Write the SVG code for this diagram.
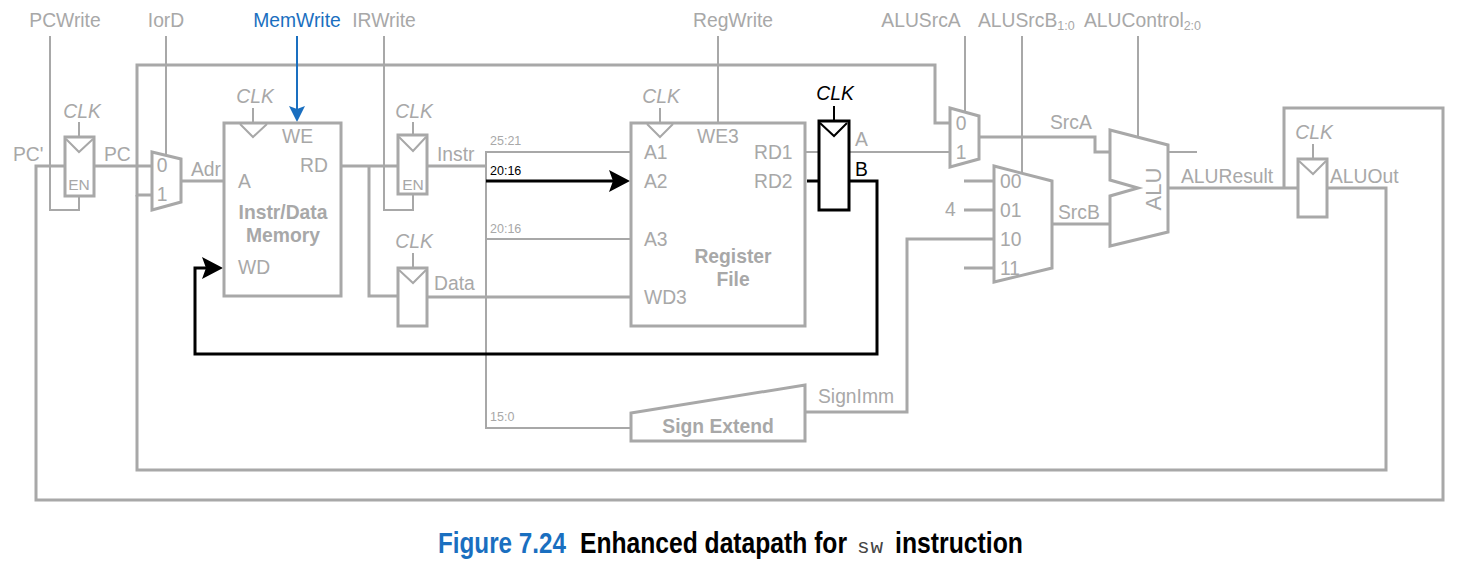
<svg xmlns="http://www.w3.org/2000/svg" width="1460" height="565" viewBox="0 0 1460 565">
<style>
text{font-family:"Liberation Sans",Arial,sans-serif;font-size:19.3px;fill:#a8a8a8}
.m{text-anchor:middle}
.i{font-style:italic}
.b{font-weight:bold}
.s{font-size:12.5px}
.en{font-size:15.5px}
.k{fill:#000}
.w,.n,.t,.bw,.bn,.bt{fill:none;stroke-linejoin:miter}
.w{stroke:#a8a8a8;stroke-width:3}
.n{stroke:#a8a8a8;stroke-width:3;fill:#fff}
.t{stroke:#a8a8a8;stroke-width:2}
.bw{stroke:#000;stroke-width:3}
.bn{stroke:#000;stroke-width:3;fill:#fff}
.bt{stroke:#000;stroke-width:2}
.cap{font-weight:bold;font-size:29px}
</style>
<defs>
<marker id="ab" markerUnits="userSpaceOnUse" markerWidth="22" markerHeight="22" refX="11" refY="11" orient="auto"><path d="M0 0L21 11L0 22L4 11Z" fill="#000"/></marker>
<marker id="au" markerUnits="userSpaceOnUse" markerWidth="18" markerHeight="18" refX="6" refY="8" orient="auto"><path d="M0 0L16 8L0 16L3 8Z" fill="#1a6fc0"/></marker>
</defs>
<rect width="1460" height="565" fill="#fff"/>

<g id="connectors">
<path class="w" d="M1284 188V108H1443V500H36V166H65"/>
<path class="w" d="M94 166H152"/>
<path class="w" d="M152 195H137V65H935V123H950"/>
<path class="w" d="M1327 188H1386V470H137V195"/>
<path class="w" d="M181 181H224"/>
<path class="w" d="M341 166H398"/>
<path class="w" d="M369 166V296H398"/>
<path class="w" d="M427 166H486"/>
<path class="w" d="M427 297H631"/>
<path class="t" d="M631 152H486V428H631"/>
<path class="t" d="M486 239H631"/>
<path class="w" d="M805 412H907V239H994"/>
<path class="t" d="M805 152H819"/>
<path class="t" d="M849 152H950"/>
<path class="w" d="M979 137H1095V152H1110"/>
<path class="w" d="M1052 224H1110"/>
<path class="w" d="M964 181H994M964 210H994M964 268H994"/>
<path class="t" d="M1168 152H1197"/>
<path class="w" d="M1168 188H1298"/>
<path class="t" d="M50 36V210H79V196"/>
<path class="t" d="M166 36V156"/>
<path class="t" d="M384 36V210H413V194"/>
<path class="t" d="M718 36V123"/>
<path class="t" d="M965 36V112"/>
<path class="t" d="M1022 36V173"/>
<path class="t" d="M1138 36V137"/>
<path class="bw" d="M486 181H620" marker-end="url(#ab)"/>
<path class="bw" d="M807 181H819"/>
<path class="bw" d="M849 181H877V354H195V268H213" marker-end="url(#ab)"/>
<path d="M297 36V112" fill="none" stroke="#1a6fc0" stroke-width="2" marker-end="url(#au)"/>
</g>

<g id="control-labels">
<text class="m" x="65" y="27">PCWrite</text>
<text class="m" x="166" y="27">IorD</text>
<text class="m" x="297" y="27" style="fill:#1a6fc0">MemWrite</text>
<text class="m" x="384" y="27">IRWrite</text>
<text class="m" x="733" y="27">RegWrite</text>
<text class="m" x="921" y="27">ALUSrcA</text>
<text x="978" y="27">ALUSrcB<tspan font-size="12.5" dy="3">1:0</tspan></text>
<text x="1084" y="27">ALUControl<tspan font-size="12.5" dy="3">2:0</tspan></text>
</g>

<g id="pc-register">
<rect class="n" x="65" y="137" width="29" height="59"/>
<path class="t" d="M66 139L79 152L93 139M79 122V137"/>
<text class="m i" x="82" y="118">CLK</text>
<text class="m en" x="79" y="190">EN</text>
<text x="13" y="161">PC'</text>
<text x="104" y="161">PC</text>
</g>

<g id="iord-mux">
<path class="n" d="M152 152L181 159V202L152 210Z"/>
<text class="m" x="162" y="172">0</text>
<text class="m" x="162" y="201">1</text>
<text x="191" y="176">Adr</text>
</g>

<g id="memory">
<rect class="n" x="224" y="123" width="117" height="173"/>
<path class="t" d="M240 124L253 137L267 124M253 108V123"/>
<text class="m i" x="255" y="103">CLK</text>
<text x="238" y="188">A</text>
<text x="282" y="143">WE</text>
<text x="300" y="172">RD</text>
<text x="238" y="274">WD</text>
<text class="m b" x="283" y="219">Instr/Data</text>
<text class="m b" x="283" y="242">Memory</text>
</g>

<g id="ir-register">
<rect class="n" x="398" y="135" width="29" height="59"/>
<path class="t" d="M399 137L413 151L426 137M413 122V135"/>
<text class="m i" x="414" y="118">CLK</text>
<text class="m en" x="413" y="190">EN</text>
<text x="437" y="161">Instr</text>
</g>

<g id="data-register">
<rect class="n" x="398" y="268" width="29" height="58"/>
<path class="t" d="M399 270L413 283L426 270M413 253V268"/>
<text class="m i" x="414" y="248">CLK</text>
<text x="434" y="290">Data</text>
</g>

<g id="bit-labels">
<text class="s" x="490" y="145">25:21</text>
<text class="s k" x="490" y="175">20:16</text>
<text class="s" x="490" y="233">20:16</text>
<text class="s" x="490" y="421">15:0</text>
</g>

<g id="register-file">
<rect class="n" x="631" y="123" width="174" height="203"/>
<path class="t" d="M647 124L660 137L673 124M660 108V123"/>
<text class="m i" x="661" y="103">CLK</text>
<text x="644" y="159">A1</text>
<text x="644" y="188">A2</text>
<text x="644" y="246">A3</text>
<text x="644" y="304">WD3</text>
<text x="697" y="143">WE3</text>
<text x="754" y="159">RD1</text>
<text x="754" y="188">RD2</text>
<text class="m b" x="733" y="263">Register</text>
<text class="m b" x="733" y="286">File</text>
</g>

<g id="sign-extend">
<path class="n" d="M631 413L805 385V441H631Z"/>
<text class="m b" x="718" y="433">Sign Extend</text>
<text x="818" y="403">SignImm</text>
</g>

<g id="ab-register">
<rect class="bn" x="819" y="121" width="30" height="89"/>
<path class="bt" d="M820 123L834 136L847 123M834 106V121"/>
<text class="m i k" x="835" y="100">CLK</text>
<text x="855" y="146">A</text>
<text class="k" x="855" y="176">B</text>
</g>

<g id="srca-mux">
<path class="n" d="M950 108L979 116V159L950 167Z"/>
<text class="m" x="961" y="130">0</text>
<text class="m" x="961" y="159">1</text>
<text x="1050" y="129">SrcA</text>
</g>

<g id="srcb-mux">
<path class="n" d="M994 166L1052 181V268L994 282Z"/>
<text x="945" y="216">4</text>
<text x="1000" y="188">00</text>
<text x="1000" y="217">01</text>
<text x="1000" y="246">10</text>
<text x="1000" y="275">11</text>
<text x="1058" y="219">SrcB</text>
</g>

<g id="alu">
<path class="n" d="M1110 130L1168 145V232L1110 246V196L1138 188L1110 180Z"/>
<text class="m" style="font-size:22px" transform="translate(1161 189) rotate(-90)">ALU</text>
<text x="1181" y="183">ALUResult</text>
</g>

<g id="aluout-register">
<rect class="n" x="1298" y="159" width="29" height="58"/>
<path class="t" d="M1299 161L1313 174L1326 161M1313 144V159"/>
<text class="m i" x="1314" y="139">CLK</text>
<text x="1330" y="183">ALUOut</text>
</g>

<g id="caption">
<text class="cap" transform="translate(438 553) scale(.836 1)" style="fill:#1a6fc0">Figure 7.24</text>
<text class="cap k" transform="translate(580 553) scale(.85 1)">Enhanced datapath for</text>
<text x="857" y="553" style="font-family:'Liberation Mono',monospace;font-size:21px;fill:#444;letter-spacing:1px">sw</text>
<text class="cap k" transform="translate(895 553) scale(.854 1)">instruction</text>
</g>
</svg>
